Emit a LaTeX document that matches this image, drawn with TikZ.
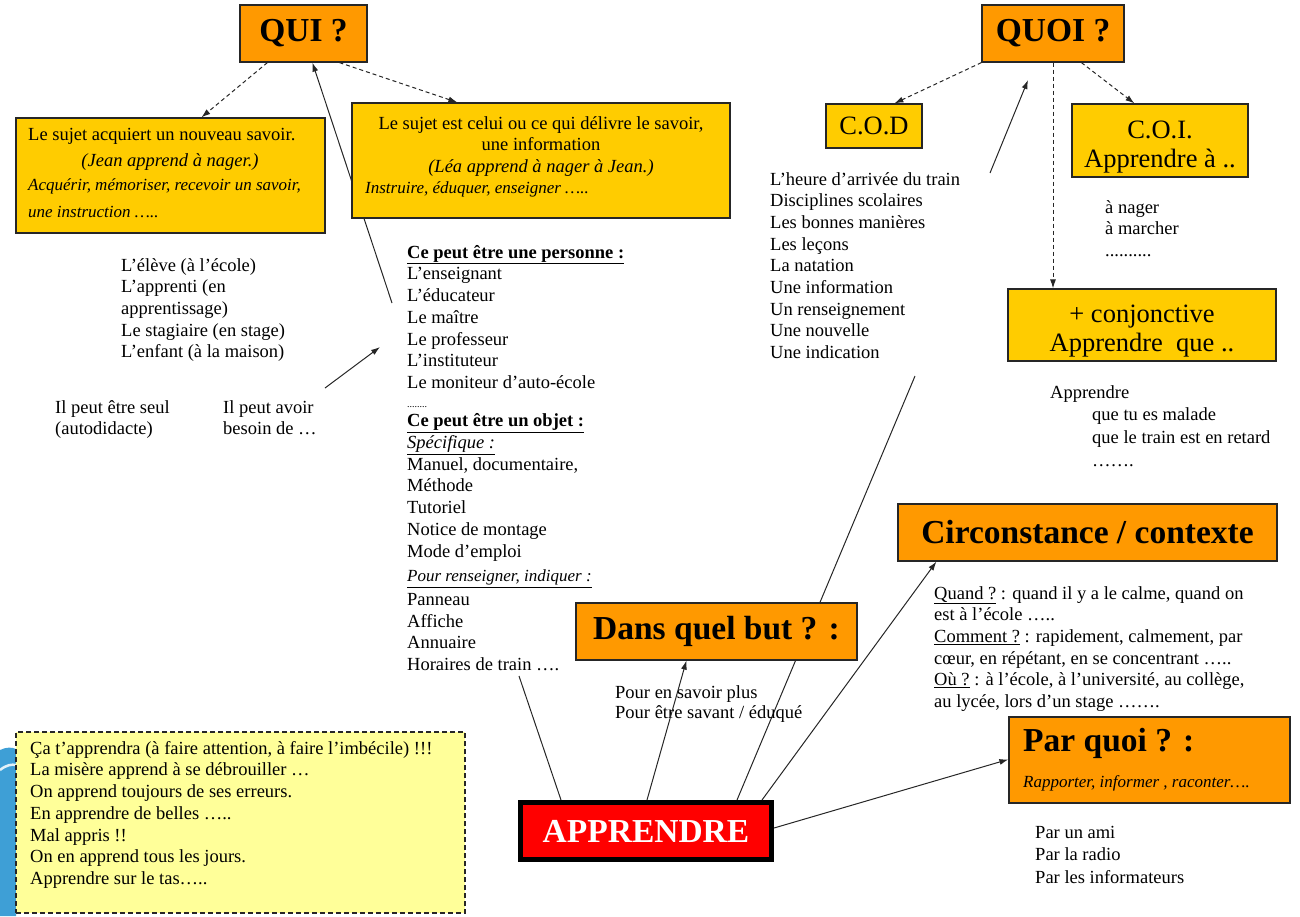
\documentclass[tikz,border=0pt]{standalone}
\usepackage{fontspec}
\setmainfont{Liberation Serif}
\usetikzlibrary{arrows.meta,backgrounds}

\definecolor{orangebox}{HTML}{FF9900}
\definecolor{yellowbox}{HTML}{FFCC00}
\definecolor{notebox}{HTML}{FFFF99}
\definecolor{decoblue}{HTML}{3E9FD6}

\newcommand\txtsize{\fontsize{18.5}{21.7}\selectfont}
\newcommand\titlesize{\fontsize{33.5}{36}\selectfont\bfseries}
\newcommand\boxsize{\fontsize{26.5}{29}\selectfont}
\newcommand\handsize{\normalfont\fontsize{17}{27}\selectfont\itshape}

\tikzset{
  txt/.style={anchor=north west, inner sep=0pt, align=left, font=\txtsize},
  boxtxt/.style={inner sep=0pt, align=center, font=\boxsize},
  titlebox/.style={draw=black!85, line width=1.2pt, fill=orangebox, font=\titlesize, inner sep=0pt},
  notion/.style={draw=black!85, line width=1.2pt, fill=yellowbox, inner sep=0pt},
  link/.style={line width=1pt, black!85, -{Latex[length=9pt,width=6pt]}},
  dashlink/.style={link, dash pattern=on 4pt off 3pt},
}

\begin{document}
\begin{tikzpicture}[x=1pt,y=-1pt]
\useasboundingbox (0,0) rectangle (1300,916);

\fill[decoblue] (0,750) .. controls (6,747) and (12,747) .. (16,749) -- (16,916) -- (0,916) -- cycle;
\draw[white!85!decoblue, line width=2.5pt] (0,770) .. controls (6,765) and (12,764) .. (16,765);

% QUI
\node[titlebox, minimum width=127, minimum height=57] (qui) at (303.5,33.5) {QUI ?};
\node[notion, minimum width=309, minimum height=115] (acquiert) at (170.5,175.5) {};
\node[txt] (acqtxt) at (28,128) {Le sujet acquiert un nouveau savoir.};
\node[txt, anchor=north] (jean) at (170,153) {\itshape (Jean apprend à nager.)};
\node[txt, font=\handsize] (acqverbes) at (28,178) {Acquérir, mémoriser, recevoir un savoir,\\une instruction …..};
\node[notion, minimum width=378, minimum height=115] (delivre) at (541,160.5) {};
\node[txt, anchor=north, align=center] (deltxt) at (541,116) {Le sujet est celui ou ce qui délivre le savoir,\\une information\\\textit{(Léa apprend à nager à Jean.)}};
\node[txt, font=\handsize] (delverbes) at (365,181) {Instruire, éduquer, enseigner …..};

\node[txt] (eleve) at (121,258) {L'élève (à l'école)\\L'apprenti (en\\apprentissage)\\Le stagiaire (en stage)\\L'enfant (à la maison)};
\node[txt] (seul) at (55,400) {Il peut être seul\\(autodidacte)};
\node[txt] (besoin) at (223,400) {Il peut avoir\\besoin de …};

\node[txt] (qui list) at (407,245) {\underline{\textbf{Ce peut être une personne :}}\\
  L'enseignant\\L'éducateur\\Le maître\\Le professeur\\L'instituteur\\Le moniteur d'auto-école\\[-3pt]
  {\fontsize{10}{10}\selectfont ........}\\[-2pt]
  \underline{\textbf{Ce peut être un objet :}}\\
  \underline{\textit{Spécifique :}}\\
  Manuel, documentaire,\\Méthode\\Tutoriel\\Notice de montage\\Mode d'emploi\\[3pt]
  {\handsize\underline{Pour renseigner, indiquer :}}\\[2pt]
  Panneau\\Affiche\\Annuaire\\Horaires de train ….};

% QUOI
\node[titlebox, minimum width=142, minimum height=57] (quoi) at (1053,33.5) {QUOI ?};
\node[notion, font=\boxsize, minimum width=96, minimum height=44] (cod) at (874,126) {C.O.D};
\node[notion, minimum width=176, minimum height=73] (coi) at (1160,140.5) {};
\node[boxtxt] (coitxt) at (1160,147) {C.O.I.\\Apprendre à ..};
\node[notion, minimum width=268, minimum height=72] (conj) at (1142,325) {};
\node[boxtxt] (conjtxt) at (1142,331) {+ conjonctive\\Apprendre\ \ que ..};
\node[txt] (cod list) at (770,172) {L'heure d'arrivée du train\\Disciplines scolaires\\Les bonnes manières\\Les leçons\\La natation\\Une information\\Un renseignement\\Une nouvelle\\Une indication};
\node[txt] (coi list) at (1105,200) {à nager\\à marcher\\..........};
\node[txt] (conj list) at (1050,385) {Apprendre\\[1pt]\hspace*{42pt}que tu es malade\\[1pt]\hspace*{42pt}que le train est en retard\\[1pt]\hspace*{42pt}…….};

% circonstances, but, moyen
\node[titlebox, minimum width=379, minimum height=57] (circ) at (1087.5,532.5) {Circonstance / contexte};
\node[txt] (circ list) at (934,586) {\underline{Quand ?} : quand il y a le calme, quand on\\est à l'école …..\\\underline{Comment ?} : rapidement, calmement, par\\cœur, en répétant, en se concentrant …..\\\underline{Où ?} : à l'école, à l'université, au collège,\\au lycée, lors d'un stage …….};
\node[titlebox, minimum width=281, minimum height=57] (but) at (716.5,631.5) {Dans quel but ? :};
\node[txt] (but list) at (615,685) {Pour en savoir plus\\[-1.7pt]Pour être savant / éduqué};
\node[titlebox, align=left, minimum width=281, minimum height=86] (parquoi) at (1149.5,760) {Par quoi ? :\\{\handsize Rapporter, informer , raconter….}\hspace*{26pt}};
\node[txt] (parquoi list) at (1035,826) {Par un ami\\[0.8pt]Par la radio\\[0.8pt]Par les informateurs};

\node[draw=black, line width=5pt, fill=red, text=white, font=\titlesize, inner sep=0pt, minimum width=251, minimum height=57] (app) at (646,831) {APPRENDRE};

\node[draw=black!85, line width=1.2pt, dash pattern=on 5pt off 3pt, fill=notebox, minimum width=449, minimum height=181] (expr) at (240.5,822.5) {};
\node[txt] (expr list) at (30,741) {Ça t'apprendra (à faire attention, à faire l'imbécile) !!!\\La misère apprend à se débrouiller …\\On apprend toujours de ses erreurs.\\En apprendre de belles …..\\Mal appris !!\\On en apprend tous les jours.\\Apprendre sur le tas…..};

\coordinate (persfoot) at (392,303);
\coordinate (besointip) at (325,388);
\coordinate (persleft) at (380,347);
\coordinate (codfoot) at (990,173);
\coordinate (quoilow) at (1028,80);
\coordinate (horfoot) at (519,676);
\coordinate (codend) at (915,376);

\begin{scope}[on background layer]
\draw[link] (persfoot) -- ([xshift=73]qui.south west);
\draw[line width=1pt, black!85] ([xshift=219]app.north west) -- (codend);
\end{scope}

\draw[dashlink] ([xshift=28]qui.south west) -- ([xshift=186]acquiert.north west);
\draw[dashlink] ([xshift=100]qui.south west) -- ([xshift=106]delivre.north west);
\draw[link] (besointip) -- (persleft);

\draw[dashlink] (quoi.south west) -- ([xshift=69]cod.north west);
\draw[dashlink] ([xshift=100]quoi.south west) -- ([xshift=63]coi.north west);
\draw[dashlink] (quoi.south) -- (quoi.south |- conj.north);
\draw[link] (codfoot) -- (quoilow);

\draw[line width=1pt, black!85] ([xshift=43]app.north west) -- (horfoot);
\draw[link] ([xshift=129]app.north west) -- ([xshift=111]but.south west);
\draw[link] ([xshift=244]app.north west) -- ([xshift=39]circ.south west);
\draw[link] ([yshift=-28]app.north east) -- ([yshift=-43]parquoi.north west);
\end{tikzpicture}
\end{document}
